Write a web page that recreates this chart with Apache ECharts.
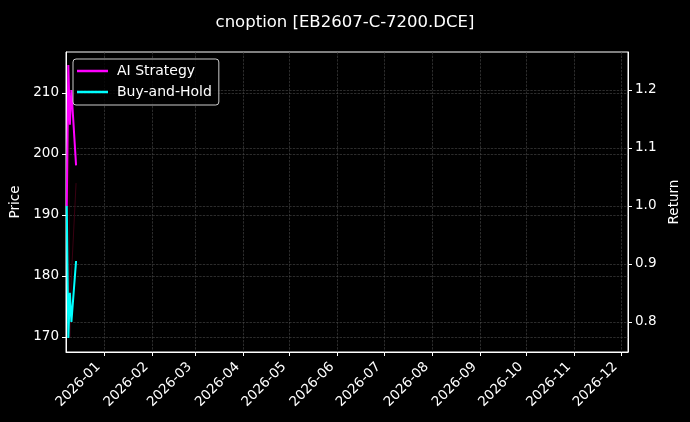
<!DOCTYPE html>
<html><head><meta charset="utf-8">
<script src="https://cdn.jsdelivr.net/npm/echarts@6/dist/echarts.min.js"></script>
<style>html,body{margin:0;padding:0;background:#000}#c{width:690px;height:422px}</style>
</head><body><div id="c"></div>
<script>
const titleText = 'cnoption [EB2607-C-7200.DCE]';
const dates = ['2025-12-08', '2025-12-09', '2025-12-10', '2025-12-11', '2025-12-14'];
const price = [192.0, 214.5, 170.0, 180.0, 195.2];
const aiStrategy = [1.000, 1.243, 1.140, 1.200, 1.070];
const buyHold = [1.000, 0.772, 0.850, 0.800, 0.905];
const priceTicks = [170, 180, 190, 200, 210];
const returnTicks = [0.8, 0.9, 1.0, 1.1, 1.2];
const monthTicks = ['2026-01', '2026-02', '2026-03', '2026-04', '2026-05', '2026-06',
  '2026-07', '2026-08', '2026-09', '2026-10', '2026-11', '2026-12'];

const ts = s => { const p = s.split('-').map(Number); return new Date(p[0], p[1] - 1, p[2] || 1, p[3] || 0).getTime(); };
const monthTs = monthTicks.map(m => ts(m));
const fmtMonth = v => { const d = new Date(v); return d.getFullYear() + '-' + String(d.getMonth() + 1).padStart(2, '0'); };
const FONT = 'DejaVu Sans';
const grid = { type: 'dashed', color: '#4a4a4a', width: 0.6 };

const chart = echarts.init(document.getElementById('c'));
chart.setOption({
  backgroundColor: '#000',
  animation: false,
  textStyle: { fontFamily: FONT },
  title: { text: titleText, left: 'center', top: 9,
    textStyle: { color: '#fff', fontSize: 16.5, fontWeight: 'normal', fontFamily: FONT } },
  grid: { left: 66, right: 62, top: 52, bottom: 70, show: true, borderColor: '#fff', borderWidth: 1, backgroundColor: '#000' },
  legend: {
    orient: 'vertical', left: 73, top: 59,
    data: ['AI Strategy', 'Buy-and-Hold'],
    backgroundColor: 'rgba(0,0,0,0.8)', borderColor: '#cccccc', borderWidth: 1, borderRadius: 3,
    padding: [5, 7, 6, 4], itemGap: 7, itemWidth: 31, itemHeight: 2.5, icon: 'rect',
    textStyle: { color: '#fff', fontSize: 14, fontFamily: FONT, padding: [0, 0, 0, 4] }
  },
  xAxis: {
    type: 'value', min: ts('2025-12-07-12'), max: ts('2026-12-05-12'),
    axisLine: { show: true, lineStyle: { color: '#fff' } },
    axisTick: { show: true, customValues: monthTs, length: 4, inside: false, lineStyle: { color: '#fff' } },
    axisLabel: { customValues: monthTs, formatter: fmtMonth, rotate: 45, color: '#fff', fontSize: 13.5, fontFamily: FONT,
      margin: 7, padding: [0, 8, 0, 0] },
    splitLine: { show: true, lineStyle: grid }
  },
  yAxis: [
    { type: 'value', min: 167.5, max: 216.7, position: 'left',
      name: 'Price', nameLocation: 'middle', nameGap: 44, nameRotate: 90,
      nameTextStyle: { color: '#fff', fontSize: 13.5, fontFamily: FONT },
      axisLine: { show: true, lineStyle: { color: '#fff' } },
      axisTick: { show: true, customValues: priceTicks, length: 4, lineStyle: { color: '#fff' } },
      axisLabel: { customValues: priceTicks, color: '#fff', fontSize: 13.5, fontFamily: FONT, margin: 7 },
      splitLine: { show: true, lineStyle: grid } },
    { type: 'value', min: 0.748, max: 1.2655, position: 'right',
      name: 'Return', nameLocation: 'middle', nameGap: 38, nameRotate: 90,
      nameTextStyle: { color: '#fff', fontSize: 13.5, fontFamily: FONT },
      axisLine: { show: true, lineStyle: { color: '#fff' } },
      axisTick: { show: true, customValues: returnTicks, length: 4, lineStyle: { color: '#fff' } },
      axisLabel: { customValues: returnTicks, color: '#fff', fontSize: 13.5, fontFamily: FONT, margin: 7,
        formatter: v => v.toFixed(1) },
      splitLine: { show: true, lineStyle: grid } }
  ],
  series: [
    { name: 'Price', type: 'line', yAxisIndex: 0, showSymbol: false, z: 1,
      data: dates.map((d, i) => [ts(d), price[i]]), lineStyle: { color: '#3a0012', width: 1 }, itemStyle: { color: '#3a0012' } },
    { name: 'AI Strategy', type: 'line', yAxisIndex: 1, showSymbol: false, z: 3,
      data: dates.map((d, i) => [ts(d), aiStrategy[i]]), lineStyle: { color: '#ff00ff', width: 2 }, itemStyle: { color: '#ff00ff' } },
    { name: 'Buy-and-Hold', type: 'line', yAxisIndex: 1, showSymbol: false, z: 3,
      data: dates.map((d, i) => [ts(d), buyHold[i]]), lineStyle: { color: '#00ffff', width: 2 }, itemStyle: { color: '#00ffff' } }
  ]
});
</script></body></html>
